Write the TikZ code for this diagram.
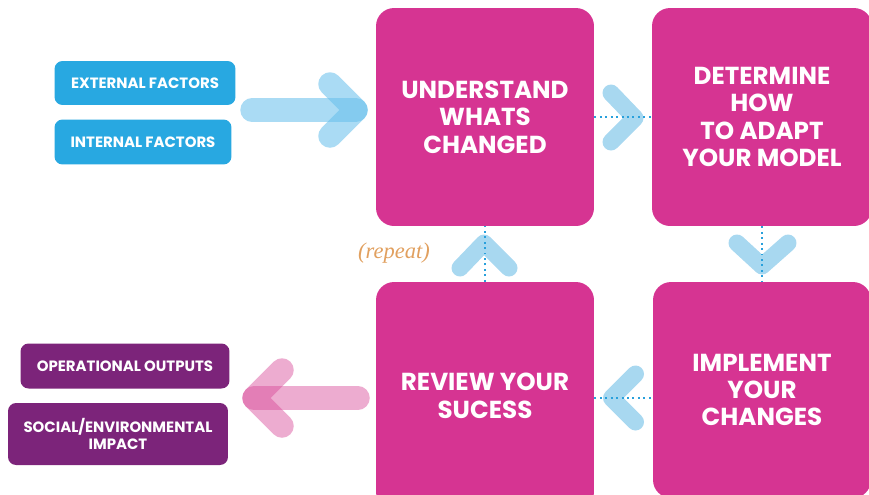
\documentclass[tikz,border=0pt]{standalone}
\usepackage{fontspec}
\setmainfont{Poppins}
\newfontfamily\notefont{Liberation Serif}
\usetikzlibrary{calc,positioning}
\definecolor{stepmag}{RGB}{214,52,146}
\definecolor{factorblue}{RGB}{40,168,225}
\definecolor{outpurple}{RGB}{124,36,122}
\definecolor{chevblue}{RGB}{168,216,240}
\definecolor{flowblue}{RGB}{100,190,235}
\definecolor{flowpink}{RGB}{215,70,150}
\definecolor{dotblue}{RGB}{40,160,220}
\definecolor{noteorange}{RGB}{225,160,95}

\tikzset{
  stepbox/.style={fill=stepmag, rounded corners=0.36cm, minimum width=4.36cm, minimum height=4.36cm,
    inner sep=0pt, text=white, align=center, font=\bfseries\fontsize{14}{15.6}\selectfont},
  factorbox/.style={fill=factorblue, rounded corners=0.16cm, inner sep=0pt, text=white,
    align=center, font=\bfseries\fontsize{8.5}{9.6}\selectfont},
  outbox/.style={factorbox, fill=outpurple},
  chev/.style={draw=chevblue, line width=0.34cm, line cap=round, line join=round},
  flow/.style={line width=0.47cm, line cap=round, line join=round, draw opacity=0.55},
  dotline/.style={draw=dotblue, line width=1.1pt, dotted}
}

\begin{document}
\begin{tikzpicture}[x=0.02cm,y=-0.02cm]
\useasboundingbox (0,0) rectangle (869,494);

% the four steps
\node[stepbox] (understand) at (485,117) {UNDERSTAND\\WHATS\\CHANGED};
\node[stepbox, minimum width=4.4cm] (determine) at (762,117) {DETERMINE\\HOW\\TO ADAPT\\YOUR MODEL};
\node[stepbox, minimum height=4.32cm] (implement) at (762,390) {IMPLEMENT\\YOUR\\CHANGES};
\node[stepbox, minimum height=4.56cm] (review) at (485,396) {REVIEW YOUR\\SUCESS};

% inputs and outputs
\node[factorbox, minimum width=3.62cm, minimum height=0.88cm] (external) at (145,83) {EXTERNAL FACTORS};
\node[factorbox, minimum width=3.54cm, minimum height=0.9cm] (internal) at (143,142) {INTERNAL FACTORS};
\node[outbox, minimum width=4.18cm, minimum height=0.9cm] (outputs) at (125,366) {OPERATIONAL OUTPUTS};
\node[outbox, minimum width=4.4cm, minimum height=1.24cm] (impact) at (118,434) {SOCIAL/ENVIRONMENTAL\\IMPACT};

% big arrows in and out
\coordinate (intail) at (252,110);
\coordinate (inhead) at (356,110);
\draw[flow, draw=flowblue] (intail) -- (inhead);
\draw[flow, draw=flowblue] ($(inhead)+(-26,-26)$) -- (inhead) -- ($(inhead)+(-26,26)$);
\coordinate (outtail) at (358,398);
\coordinate (outhead) at (254,398);
\draw[flow, draw=flowpink, draw opacity=0.45] (outtail) -- (outhead);
\draw[flow, draw=flowpink, draw opacity=0.45] ($(outhead)+(28,-28)$) -- (outhead) -- ($(outhead)+(28,28)$);

% chevrons between the steps
\coordinate (m1) at ($(understand.east)!0.5!(determine.west)$);
\coordinate (m2) at ($(determine.south)!0.5!(implement.north)$);
\coordinate (m3) at ($(review.east |- 0,398)!0.5!(implement.west |- 0,398)$);
\coordinate (m4) at ($(review.north)!0.5!(understand.south)$);
\draw[chev] ($(m1)+(-12,-24)$) -- ($(m1)+(12,1)$) -- ($(m1)+(-12,25)$);
\draw[chev] ($(m2)+(-25,-11)$) -- ($(m2)+(0,12)$) -- ($(m2)+(26,-11)$);
\draw[chev] ($(m3)+(12,-24)$) -- ($(m3)+(-12,0)$) -- ($(m3)+(12,24)$);
\draw[chev] ($(m4)+(-25,14)$) -- ($(m4)+(-1,-11)$) -- ($(m4)+(24,14)$);

% links between the steps
\draw[dotline] (understand.east) -- (determine.west);
\draw[dotline] (determine.south) -- (implement.north);
\draw[dotline] (review.east |- 0,398) -- (implement.west |- 0,398);
\draw[dotline] (review.north) -- (understand.south);

%Labeling the loop
\node[text=noteorange, font=\notefont\itshape\fontsize{12.8}{14}\selectfont] (repeat) at (394,253) {(repeat)};
\end{tikzpicture}
\end{document}
